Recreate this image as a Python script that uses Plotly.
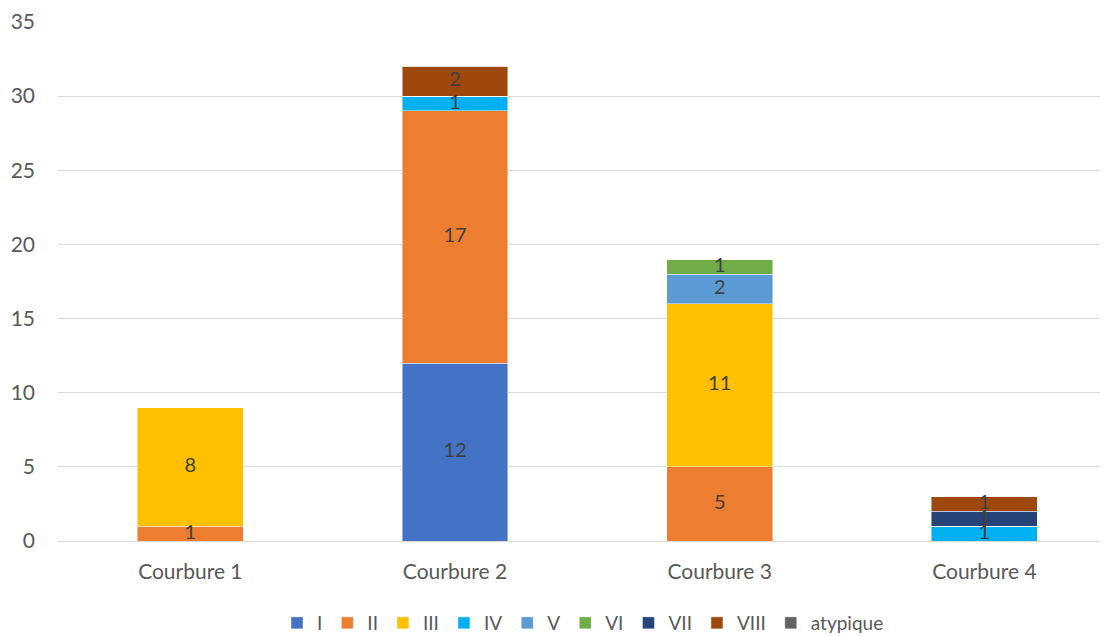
import plotly.graph_objects as go

categories = ["Courbure 1", "Courbure 2", "Courbure 3", "Courbure 4"]
series_names = ["I", "II", "III", "IV", "V", "VI", "VII", "VIII", "atypique"]
s_I = [0, 12, 0, 0]
s_II = [1, 17, 5, 0]
s_III = [8, 0, 11, 0]
s_IV = [0, 1, 0, 1]
s_V = [0, 0, 2, 0]
s_VI = [0, 0, 1, 0]
s_VII = [0, 0, 0, 1]
s_VIII = [0, 2, 0, 1]
s_atyp = [0, 0, 0, 0]
y_ticks = [0, 5, 10, 15, 20, 25, 30, 35]

series_values = [s_I, s_II, s_III, s_IV, s_V, s_VI, s_VII, s_VIII, s_atyp]
colors = ["#4472C4", "#ED7D31", "#FFC000", "#00B0F0", "#5B9BD5",
          "#70AD47", "#264478", "#9E480E", "#636363"]

FONT = "Lato"
fig = go.Figure()
for name, vals, col in zip(series_names, series_values, colors):
    fig.add_trace(go.Bar(
        x=categories, y=vals, name=name,
        marker=dict(color=col, line=dict(color="rgba(255,255,255,0.6)", width=0.75)),
    ))

# data labels at segment centres
lx, ly, lt = [], [], []
base = [0] * len(categories)
for vals in series_values:
    for i, v in enumerate(vals):
        if v:
            lx.append(categories[i])
            ly.append(base[i] + v / 2)
            lt.append(str(v))
        base[i] += v
fig.add_trace(go.Scatter(
    x=lx, y=ly, text=lt, mode="text", showlegend=False, hoverinfo="skip",
    textfont=dict(family=FONT, size=20, color="#404040"), cliponaxis=False,
))

fig.update_layout(
    barmode="stack", bargap=0.6,
    width=1100, height=628,
    margin=dict(l=50, r=0, t=14, b=95, autoexpand=False),
    plot_bgcolor="white", paper_bgcolor="white",
    font=dict(family=FONT, size=21, color="#595959"),
    legend=dict(orientation="h", x=0.5, xanchor="center", y=-0.158, yanchor="middle",
                font=dict(family=FONT, size=19, color="#595959"), itemwidth=30,
                traceorder="normal", itemclick=False),
    xaxis=dict(range=[-0.5, 3.467], showgrid=False, showline=False, zeroline=False,
               automargin=False,
               ticks="", ticklabelstandoff=16, tickfont=dict(size=21, color="#595959")),
    yaxis=dict(range=[0, 35], tickvals=y_ticks, showgrid=True, gridcolor="#D9D9D9",
               gridwidth=1, zeroline=True, zerolinecolor="#D9D9D9", zerolinewidth=1,
               showline=False, ticks="", ticklabelstandoff=22, automargin=False,
               tickfont=dict(size=21, color="#595959")),
)

fig.write_html("out.html")
